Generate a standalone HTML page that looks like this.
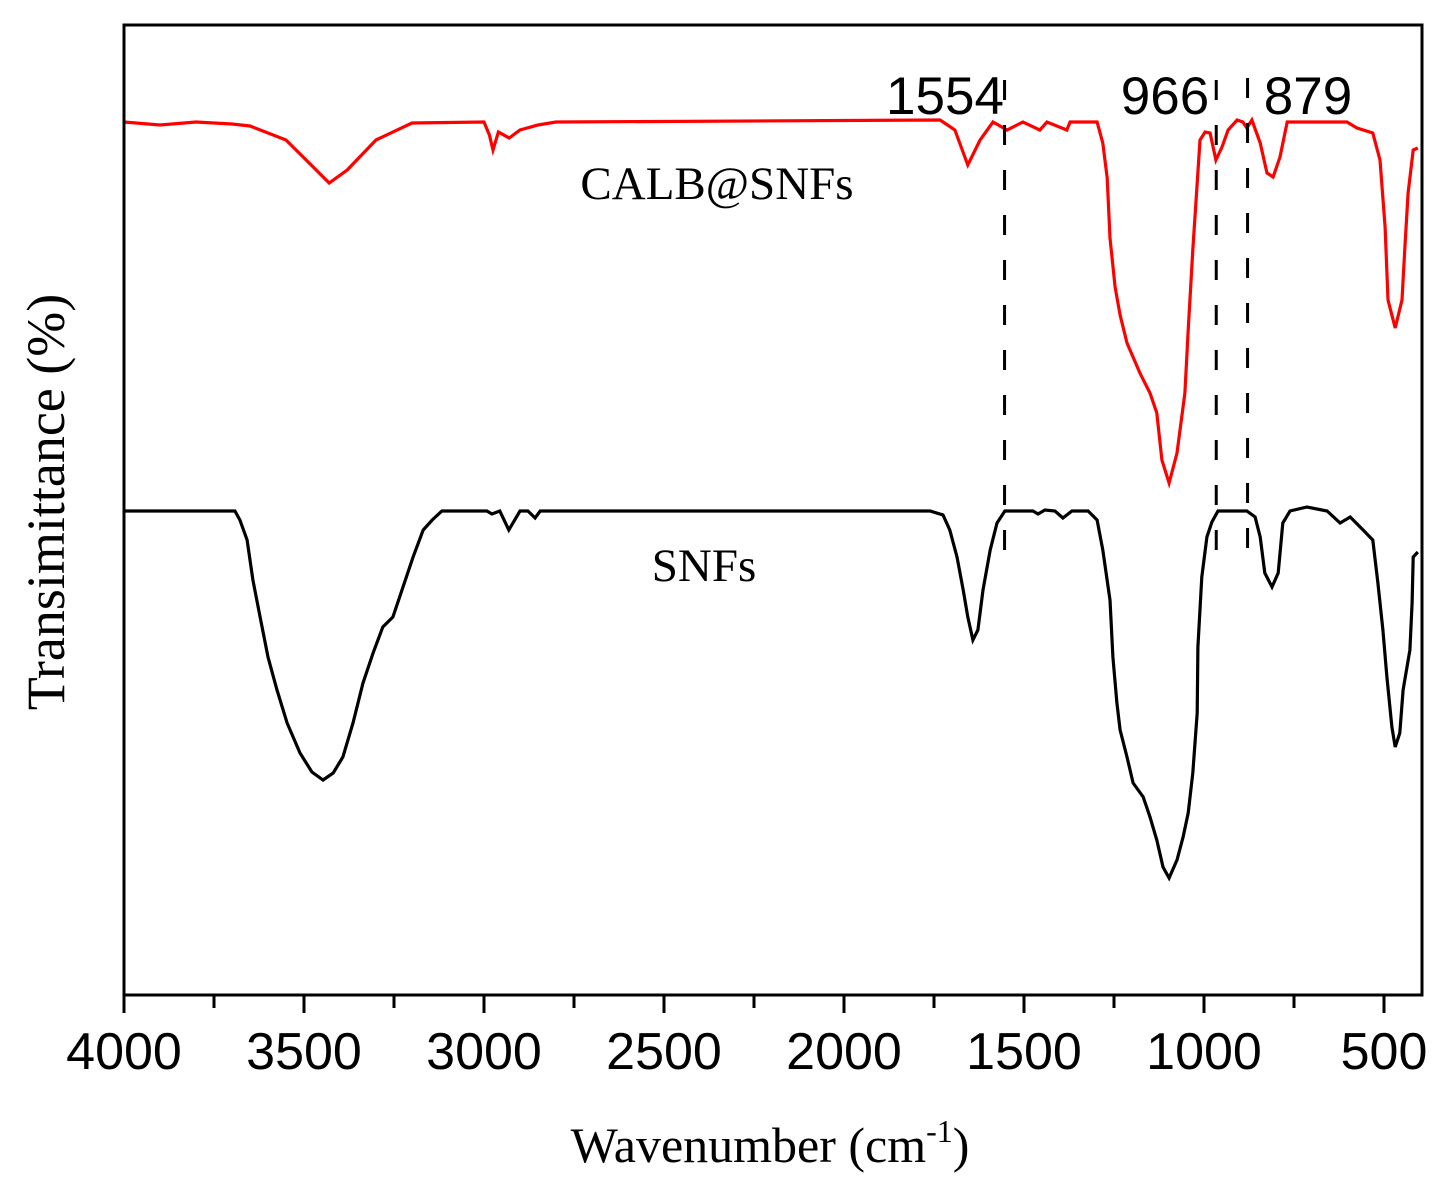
<!DOCTYPE html>
<html><head><meta charset="utf-8"><style>
html,body{margin:0;padding:0;background:#fff;}
svg{display:block;}
.sans{font-family:"Liberation Sans",sans-serif;}
.serif{font-family:"Liberation Serif",serif;}
</style></head><body>
<svg id="chart" width="1448" height="1193" viewBox="0 0 1448 1193" xmlns="http://www.w3.org/2000/svg">
<rect x="0" y="0" width="1448" height="1193" fill="#fff"/>
<g id="plot"></g>
<rect x="124" y="25" width="1298" height="970" fill="none" stroke="#000" stroke-width="3"/>
<g id="axes"></g>
<text class="serif" x="770" y="1162" font-size="50" text-anchor="middle">Wavenumber (cm<tspan font-size="32" dy="-20">-1</tspan><tspan dy="20">)</tspan></text>
<text class="serif" transform="translate(64,502) rotate(-90)" font-size="54" text-anchor="middle">Transimittance (%)</text>
<text class="serif" x="717" y="199" font-size="47" text-anchor="middle">CALB@SNFs</text>
<text class="serif" x="704" y="581" font-size="47" text-anchor="middle">SNFs</text>
</svg>
<script>
const xTicks = [4000, 3500, 3000, 2500, 2000, 1500, 1000, 500];
const xMinorTicks = [3750, 3250, 2750, 2250, 1750, 1250, 750];
const peakLabels = ["1554", "966", "879"];
const peakPositions = [1554, 966, 879];
const redWn = [4000,3900,3800,3700,3650,3550,3480,3430,3380,3300,3200,3000,2985,2975,2960,2930,2900,2850,2800,1733,1692,1656,1622,1586,1547,1503,1456,1436,1381,1372,1297,1281,1269,1261,1247,1233,1214,1178,1150,1131,1117,1097,1075,1053,1044,1031,1019,1011,997,983,967,950,933,908,892,881,867,844,825,808,789,769,603,575,531,511,497,489,469,450,442,433,419,406];
const redT = [873,870,873,871,869,855,830,812,825,855,872,873,860,845,863,857,865,870,873,875,865,830,855,873,865,873,865,873,865,873,873,852,817,757,708,680,652,622,602,582,535,512,542,602,665,745,812,855,863,862,835,848,865,875,873,867,875,852,822,818,838,873,873,867,862,835,768,695,667,695,748,802,845,847];
const blackWn = [4000,3692,3678,3658,3642,3622,3600,3575,3547,3511,3478,3447,3419,3392,3364,3336,3308,3281,3253,3225,3197,3169,3144,3117,2992,2978,2956,2931,2900,2878,2858,2844,1761,1725,1706,1686,1669,1656,1642,1628,1614,1594,1575,1553,1475,1461,1442,1414,1392,1367,1322,1297,1281,1261,1253,1242,1233,1214,1197,1169,1150,1131,1114,1097,1075,1058,1044,1031,1019,1017,1006,992,978,961,881,858,844,831,811,794,781,761,714,658,622,594,558,531,517,503,492,478,469,456,447,428,422,419,406];
const blackT = [484,484,475,455,415,378,338,305,272,242,223,215,222,238,272,312,342,368,378,408,438,465,475,484,484,481,484,465,484,484,477,484,484,480,465,438,405,378,355,365,405,445,472,484,484,481,485,484,477,484,484,475,445,395,338,292,265,238,212,198,178,155,128,117,135,158,182,222,282,348,418,458,473,484,484,478,458,422,408,422,472,484,488,484,472,478,465,455,412,365,318,268,248,262,305,345,392,438,443];

const X = wn => 124 + (4000 - wn) * 0.36;
const Y = v => 995 - v;
const NS = "http://www.w3.org/2000/svg";
const plot = document.getElementById('plot');
const axes = document.getElementById('axes');
function mk(tag, attrs, parent){const e=document.createElementNS(NS,tag);for(const k in attrs)e.setAttribute(k,attrs[k]);parent.appendChild(e);return e;}

function drawLine(wn, t, color, name){
  const d = wn.map((w,i)=>(i?'L':'M')+X(w).toFixed(1)+' '+Y(t[i]).toFixed(1)).join(' ');
  const p = mk('path',{d:d,fill:'none',stroke:color,'stroke-width':3.2,'stroke-linejoin':'miter'},plot);
  
  
}
drawLine(redWn, redT, '#ff0000', 'calb-snfs-spectrum');
drawLine(blackWn, blackT, '#000000', 'snfs-spectrum');

const dashTop = [80, 80, 78];
peakPositions.forEach((p,i)=>{
  const l = mk('line',{x1:X(p),x2:X(p),y1:dashTop[i],y2:566,stroke:'#000','stroke-width':3,'stroke-dasharray':'20 25'},plot);
  
  
});
const labelX = [945, 1165, 1308];
peakLabels.forEach((s,i)=>{
  const t = mk('text',{x:labelX[i],y:114,'font-size':53,'text-anchor':'middle',class:'sans'},plot);
  t.textContent = s;
  
  
});

xTicks.forEach(v=>{
  const l = mk('line',{x1:X(v),x2:X(v),y1:995,y2:1013,stroke:'#000','stroke-width':3},axes);
  
  
  const t = mk('text',{x:X(v),y:1069,'font-size':52,'text-anchor':'middle',class:'sans'},axes);
  t.textContent = v;
  
  
});
xMinorTicks.forEach(v=>{
  const l = mk('line',{x1:X(v),x2:X(v),y1:995,y2:1008,stroke:'#000','stroke-width':3},axes);
  
  
});
</script>
</body></html>
